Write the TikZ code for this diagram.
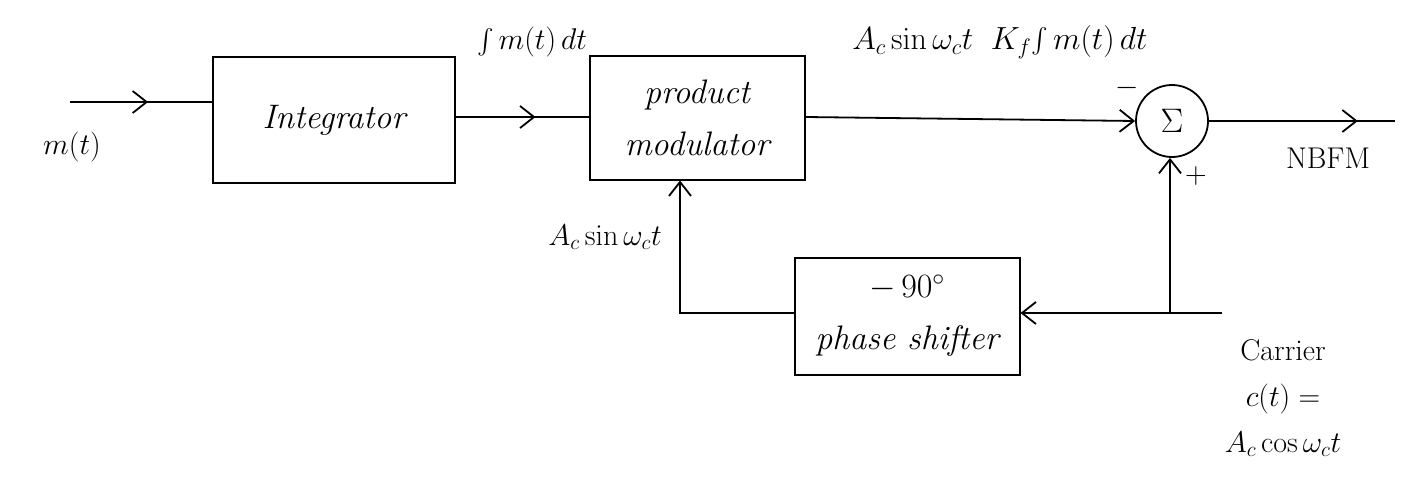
\RequirePackage{fix-cm}
\documentclass[tikz,border=0pt]{standalone}
\usepackage{exscale}
\usetikzlibrary{arrows.meta,decorations.markings}
\begin{document}
\begin{tikzpicture}[x=1pt,y=-1pt,
  line width=1.8pt,
  blk/.style={draw,line width=2pt,rectangle,inner sep=0pt,align=center,font=\fontsize{34}{52}\selectfont\itshape},
  lbl/.style={font=\fontsize{30}{46}\selectfont,inner sep=0pt,align=center},
  barb/.style={-{Straight Barb[length=14pt,width=22pt,line width=1.8pt]}},
  midarrow/.style={postaction={decorate},decoration={markings,
     mark=at position #1 with {\arrow{Straight Barb[length=14pt,width=22pt,line width=1.8pt]}}}}]
\useasboundingbox (0,0) rectangle (1410,484);
% blocks
\node[blk,minimum width=242pt,minimum height=125pt] (integ) at (334,120) {Integrator};
\node[blk,minimum width=215pt,minimum height=123pt] (prod) at (697,118) {product\\modulator};
\node[blk,minimum width=225pt,minimum height=117pt] (phase) at (907,316) {$-\,90^\circ$\\phase shifter};
\node[draw,circle,minimum size=72pt,inner sep=0pt,font=\fontsize{34}{40}\selectfont] (sum) at (1172,121) {$\Sigma$};
% coordinates
\coordinate (in) at (70,102);
\coordinate (out) at (1395,121);
\coordinate (car) at (1222,313);
\coordinate (junc) at (1170,313);
\coordinate (fb) at (680,313);
% connectors
\draw[midarrow=0.55] (in) -- (in -| integ.west);
\draw[midarrow=0.6] (integ.east |- 0,117) -- (prod.west |- 0,117);
\draw[barb] (prod.east |- 0,117) -- (sum.west);
\draw[midarrow=0.8] (sum.east) -- (out);
\draw[barb] (car) -- (phase.east |- car);
\draw[barb] (junc) -- (sum.south -| junc);
\draw[barb] (phase.west |- fb) -- (fb) -- (fb |- prod.south);
% labels
\node[lbl] (lm) at (72,147) {$m(t)$};
\node[lbl] (lint) at (532,42) {$\int m(t)\,dt$};
\node[lbl,font=\fontsize{32}{46}\selectfont] (ltop) at (1000,42) {$A_c\sin\omega_c t\;\; K_f\!\int m(t)\,dt$};
\node[lbl] (lsin) at (605,237) {$A_c\sin\omega_c t$};
\node[lbl] (lminus) at (1127,88) {$-$};
\node[lbl] (lplus) at (1196,176) {$+$};
\node[lbl] (lnbfm) at (1328,158) {NBFM};
\node[lbl] (lcar) at (1283,398) {Carrier\\$c(t)=$\\$A_c\cos\omega_c t$};
\end{tikzpicture}
\end{document}
